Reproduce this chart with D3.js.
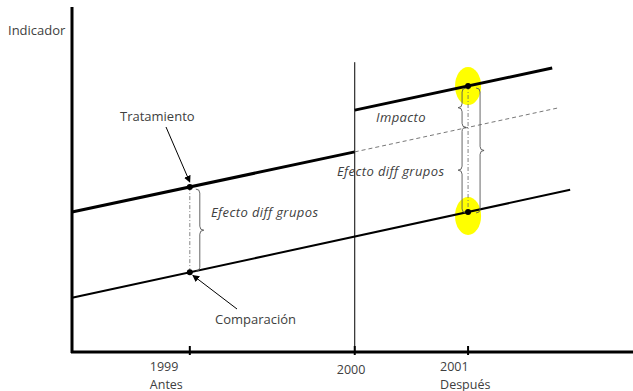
<!DOCTYPE html>
<html>
<head>
<meta charset="utf-8">
<script src="https://cdn.jsdelivr.net/npm/d3@7"></script>
<style>
  body { margin: 0; background: #fff; }
  text { font-family: "Open Sans", sans-serif; fill: #404040; font-size: 13px; }
  text.it { font-style: italic; letter-spacing: 0.4px; }
  text.tk { font-size: 12.5px; }
</style>
</head>
<body>
<div id="graph"></div>
<script>
// time runs 0..100 along the axis, indicator 0..100 up the axis
var tickTimes = [21.0, 50.4, 70.6];
var tickYears = ["1999", "2000", "2001"];
var tickNotes = ["Antes", "", "Después"];

// line segments [t0, v0, t1, v1]
var treatPre = [0, 40.6, 50.4, 58.0];
var treatPost = [50.4, 70.1, 85.6, 82.3];
var counterfactual = [50.4, 58.0, 86.5, 70.7];
var comparison = [0, 15.7, 88.8, 47.0];

// observed points
var pointTimes = [21.0, 21.0, 70.6, 70.6];
var pointValues = [47.8, 23.1, 77.1, 40.6];

var margin = {top: 7, right: 0, bottom: 39, left: 72},
    width = 633, height = 391;

var x = d3.scaleLinear().domain([0, 100]).range([margin.left, width]);
var y = d3.scaleLinear().domain([0, 100]).range([height - margin.bottom, margin.top]);

var svg = d3.select("#graph").append("svg")
    .attr("width", width)
    .attr("height", height);

function onLine(seg, t) {
  return seg[1] + (seg[3] - seg[1]) * (t - seg[0]) / (seg[2] - seg[0]);
}

// yellow highlights at 2001
svg.append("g").selectAll("ellipse")
  .data([pointValues[2], pointValues[3]])
  .join("ellipse")
    .attr("cx", x(tickTimes[2]))
    .attr("cy", (d, i) => y(d) + (i ? 4 : 0))
    .attr("rx", 13)
    .attr("ry", 19)
    .attr("fill", "#ffff00");

// 2000 intervention line
svg.append("line")
    .attr("x1", x(tickTimes[1])).attr("x2", x(tickTimes[1]))
    .attr("y1", y(counterfactual[1] + 26)).attr("y2", y(0))
    .attr("stroke", "#000").attr("stroke-width", 1);

// lines
var segs = [
  {s: treatPre, w: 3, dash: null, c: "#000"},
  {s: treatPost, w: 3, dash: null, c: "#000"},
  {s: comparison, w: 2, dash: null, c: "#000"},
  {s: counterfactual, w: 0.8, dash: "4,3", c: "#555"}
];
svg.append("g").selectAll("line")
  .data(segs)
  .join("line")
    .attr("x1", d => x(d.s[0])).attr("y1", d => y(d.s[1]))
    .attr("x2", d => x(d.s[2])).attr("y2", d => y(d.s[3]))
    .attr("stroke", d => d.c)
    .attr("stroke-width", d => d.w)
    .attr("stroke-dasharray", d => d.dash);

// dash-dot verticals between groups
svg.append("g").selectAll("line")
  .data([[tickTimes[0], pointValues[0], pointValues[1]], [tickTimes[2], pointValues[2], pointValues[3]]])
  .join("line")
    .attr("x1", d => x(d[0])).attr("x2", d => x(d[0]))
    .attr("y1", d => y(d[1])).attr("y2", d => y(d[2]))
    .attr("stroke", "#666").attr("stroke-width", 0.8)
    .attr("stroke-dasharray", "4,2,1,2");

// curly braces
function brace(xp, y0, y1, dir) {
  var m = (y0 + y1) / 2, w = 4 * dir, r = 4;
  return "M" + (xp - w) + "," + y0 +
    " Q" + xp + "," + y0 + " " + xp + "," + (y0 + r) +
    " L" + xp + "," + (m - r) +
    " Q" + xp + "," + m + " " + (xp + w) + "," + m +
    " Q" + xp + "," + m + " " + xp + "," + (m + r) +
    " L" + xp + "," + (y1 - r) +
    " Q" + xp + "," + y1 + " " + (xp - w) + "," + y1;
}
var cf2001 = onLine(counterfactual, tickTimes[2]);
var braces = [
  [x(tickTimes[0]) + 10, y(pointValues[0]) + 2, y(pointValues[1]) - 1, 1],
  [x(tickTimes[2]) - 6, y(pointValues[2]) + 2, y(cf2001), -1],
  [x(tickTimes[2]) - 6, y(cf2001), y(pointValues[3]) + 1, -1],
  [x(tickTimes[2]) + 12, y(pointValues[2]) + 2, y(pointValues[3]) + 1, 1]
];
svg.append("g").selectAll("path")
  .data(braces)
  .join("path")
    .attr("d", d => brace(d[0], d[1], d[2], d[3]))
    .attr("fill", "none")
    .attr("stroke", "#555")
    .attr("stroke-width", 0.9);

// points
svg.append("g").selectAll("circle")
  .data(pointTimes)
  .join("circle")
    .attr("cx", d => x(d))
    .attr("cy", (d, i) => y(pointValues[i]))
    .attr("r", 3)
    .attr("fill", "#000");

// axes
svg.append("line")
    .attr("x1", x(0)).attr("x2", x(0))
    .attr("y1", y(100)).attr("y2", y(0) + 1)
    .attr("stroke", "#000").attr("stroke-width", 3);
svg.append("line")
    .attr("x1", x(0) - 1).attr("x2", x(100))
    .attr("y1", y(0)).attr("y2", y(0))
    .attr("stroke", "#000").attr("stroke-width", 3);

var tick = svg.append("g").selectAll("g")
  .data(tickTimes)
  .join("g")
    .attr("transform", d => `translate(${x(d)},${y(0)})`);
tick.append("line")
    .attr("y1", -6).attr("y2", 3)
    .attr("stroke", "#000").attr("stroke-width", 2);
tick.append("text")
    .attr("class", "tk")
    .attr("x", (d, i) => [-40, -18, -28][i])
    .attr("y", (d, i) => i == 1 ? 22 : 19)
    .text((d, i) => tickYears[i]);
tick.append("text")
    .attr("class", "tk")
    .attr("x", (d, i) => [-40, -18, -28][i])
    .attr("y", 36.5)
    .text((d, i) => tickNotes[i]);

// labels
svg.append("text").attr("x", 8).attr("y", 35).text("Indicador");
svg.append("text").attr("x", 120).attr("y", 121).text("Tratamiento");
svg.append("text").attr("x", 215).attr("y", 324).text("Comparación");
svg.append("text").attr("class", "it").attr("x", 211).attr("y", 217).text("Efecto diff grupos");
svg.append("text").attr("class", "it").attr("x", 337).attr("y", 176).text("Efecto diff grupos");
svg.append("text").attr("class", "it").attr("x", 376).attr("y", 122).text("Impacto");

// arrows
svg.append("defs").append("marker")
    .attr("id", "head")
    .attr("viewBox", "0 0 10 10")
    .attr("refX", 9).attr("refY", 5)
    .attr("markerWidth", 7).attr("markerHeight", 7)
    .attr("orient", "auto")
  .append("path")
    .attr("d", "M0,0 L10,5 L0,10 z")
    .attr("fill", "#000");
svg.append("g").selectAll("line")
  .data([[166, 127, x(pointTimes[0]), y(pointValues[0]) - 5],
         [237, 309, x(pointTimes[1]) + 3, y(pointValues[1]) + 3]])
  .join("line")
    .attr("x1", d => d[0]).attr("y1", d => d[1])
    .attr("x2", d => d[2]).attr("y2", d => d[3])
    .attr("stroke", "#000").attr("stroke-width", 1)
    .attr("marker-end", "url(#head)");
</script>
</body>
</html>
